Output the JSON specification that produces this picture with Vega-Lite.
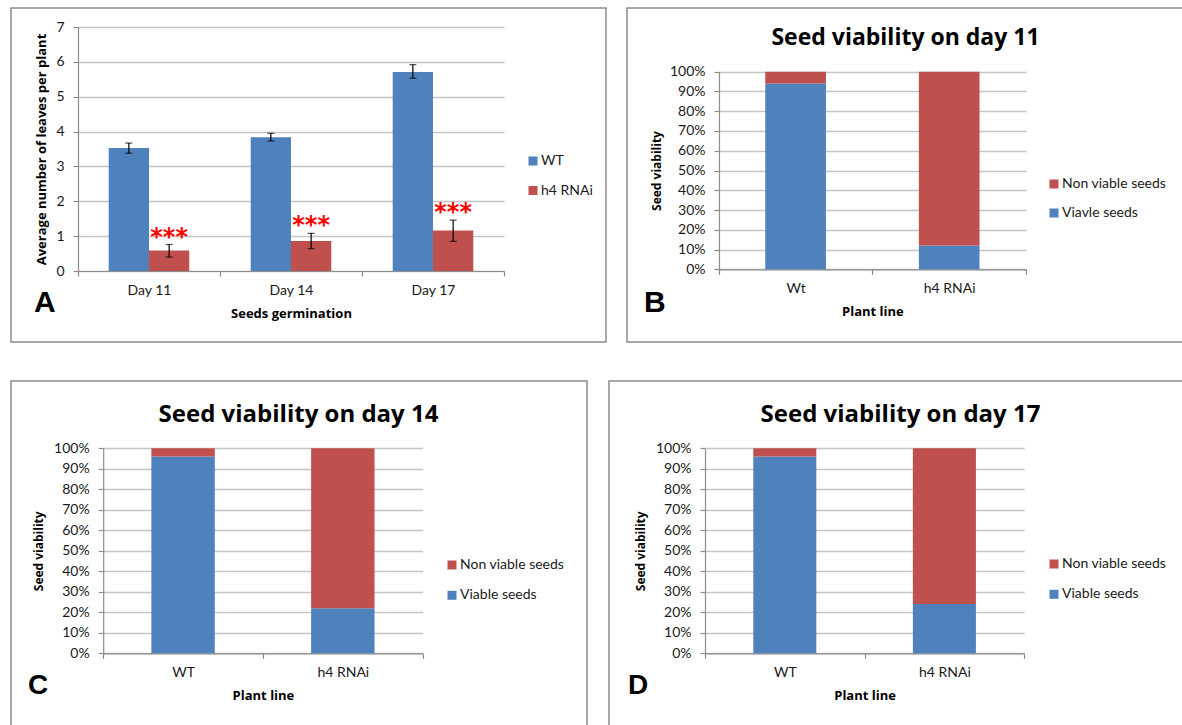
{
  "$schema": "https://vega.github.io/schema/vega-lite/v6.json",
  "padding": {"left": 10, "top": 7, "right": 0, "bottom": 0},
  "background": "white",
  "usermeta": {"embedOptions": {"actions": false}},
  "spacing": 37,
  "resolve": {"scale": {"color": "independent"}, "legend": {"color": "independent"}},
  "vconcat": [
    {
      "spacing": 21,
      "bounds": "flush",
      "resolve": {"scale": {"color": "independent"}, "legend": {"color": "independent"}},
      "hconcat": [
        {
          "width": 595,
          "height": 334,
          "title": {"text": "A", "offset": -54, "dx": 23},
          "data": {"values": [
            {"day": "Day 11", "line": "WT", "mean": 3.53, "lo": 3.38, "hi": 3.67},
            {"day": "Day 11", "line": "h4 RNAi", "mean": 0.59, "lo": 0.40, "hi": 0.76, "sig": "***"},
            {"day": "Day 14", "line": "WT", "mean": 3.84, "lo": 3.73, "hi": 3.95},
            {"day": "Day 14", "line": "h4 RNAi", "mean": 0.86, "lo": 0.64, "hi": 1.08, "sig": "***"},
            {"day": "Day 17", "line": "WT", "mean": 5.71, "lo": 5.53, "hi": 5.92},
            {"day": "Day 17", "line": "h4 RNAi", "mean": 1.16, "lo": 0.85, "hi": 1.46, "sig": "***"}
          ]},
          "encoding": {
            "x": {"field": "day", "type": "nominal",
                  "scale": {"domain": ["Day 11", "Day 14", "Day 17"], "range": [67, 493], "paddingInner": 0, "paddingOuter": 0},
                  "axis": {"title": "Seeds  germination", "orient": "bottom", "offset": -71}},
            "xOffset": {"field": "line", "type": "nominal",
                        "scale": {"domain": ["WT", "h4 RNAi"], "paddingInner": 0, "paddingOuter": 0.762}}
          },
          "layer": [
            {
              "mark": {"type": "bar"},
              "encoding": {
                "y": {"field": "mean", "type": "quantitative",
                      "scale": {"domain": [0, 7], "range": [263, 19], "nice": false},
                      "axis": {"title": "Average number of leaves per plant", "offset": -67, "values": [0, 1, 2, 3, 4, 5, 6, 7], "grid": true, "titlePadding": 7}},
                "color": {"field": "line", "type": "nominal",
                          "scale": {"domain": ["WT", "h4 RNAi"], "range": ["#4F81BD", "#C0504D"]},
                          "legend": {"title": null, "orient": "none", "legendX": 515, "legendY": 146, "rowPadding": 15.5}}
              }
            },
            {
              "mark": {"type": "rule", "color": "#000000", "strokeWidth": 1.2},
              "encoding": {
                "y": {"field": "lo", "type": "quantitative"},
                "y2": {"field": "hi"}
              }
            },
            {
              "mark": {"type": "tick", "color": "#000000", "thickness": 1.2, "size": 7},
              "encoding": {"y": {"field": "lo", "type": "quantitative"}}
            },
            {
              "mark": {"type": "tick", "color": "#000000", "thickness": 1.2, "size": 7},
              "encoding": {"y": {"field": "hi", "type": "quantitative"}}
            },
            {
              "transform": [{"filter": "datum.sig"}],
              "mark": {"type": "text", "color": "#FF0000", "font": "DejaVu Sans", "fontWeight": "bold", "fontSize": 24, "baseline": "middle", "dy": -7},
              "encoding": {
                "y": {"field": "hi", "type": "quantitative"},
                "text": {"field": "sig"}
              }
            }
          ]
        },
        {
          "width": 570,
          "height": 334,
          "title": {"text": "B", "offset": -54, "dx": 17},
          "data": {"values": [
            {"line": "Wt", "status": "Viavle seeds", "pct": 94},
            {"line": "Wt", "status": "Non viable seeds", "pct": 6},
            {"line": "h4 RNAi", "status": "Viavle seeds", "pct": 12},
            {"line": "h4 RNAi", "status": "Non viable seeds", "pct": 88}
          ]},
          "transform": [{"stack": "pct", "groupby": ["line"], "offset": "normalize", "sort": [{"field": "status", "order": "descending"}], "as": ["v0", "v1"]}],
          "encoding": {
            "y": {"field": "v0", "type": "quantitative",
                  "scale": {"domain": [0, 1], "range": [261.3, 63.7], "nice": false},
                  "axis": {"title": "Seed viability", "titleFontSize": 12, "offset": -92, "values": [0, 0.1, 0.2, 0.3, 0.4, 0.5, 0.6, 0.7, 0.8, 0.9, 1], "format": ".0%", "grid": true, "titlePadding": 6}},
            "y2": {"field": "v1"},
            "color": {"field": "status", "type": "nominal",
                      "scale": {"domain": ["Non viable seeds", "Viavle seeds"], "range": ["#C0504D", "#4F81BD"]},
                      "legend": {"title": null, "orient": "none", "legendX": 420, "legendY": 169, "rowPadding": 15}}
          },
          "layer": [
            {
              "transform": [{"filter": "datum.status == 'Viavle seeds'"}],
              "mark": {"type": "bar", "width": {"band": 0.395}},
              "encoding": {
                "x": {"field": "line", "type": "nominal",
                      "scale": {"domain": ["Wt", "h4 RNAi"], "range": [91.8, 399], "paddingInner": 0, "paddingOuter": 0},
                      "axis": {"title": "Plant line", "orient": "bottom", "offset": -72.7}}
              }
            },
            {
              "transform": [{"filter": "datum.status == 'Non viable seeds'"}],
              "mark": {"type": "bar", "width": {"band": 0.395}},
              "encoding": {
                "x": {"field": "line", "type": "nominal",
                      "scale": {"domain": ["Wt", "h4 RNAi"], "range": [91.8, 399], "paddingInner": 0, "paddingOuter": 0},
                      "axis": {"title": "Seed viability on day 11", "orient": "top", "offset": 0, "labels": false, "ticks": false, "domain": false, "grid": false,
                               "titleX": 278, "titleY": 36, "titleAlign": "center", "titleBaseline": "alphabetic", "titleAngle": 0, "titleFontSize": 23}}
              }
            }
          ],
          "resolve": {"axis": {"x": "independent"}}
        }
      ]
    },
    {
      "spacing": 22,
      "bounds": "flush",
      "resolve": {"scale": {"color": "independent"}, "legend": {"color": "independent"}},
      "hconcat": [
        {
          "width": 576,
          "height": 350,
          "title": {"text": "C", "offset": -59.5, "dx": 17, "fontSize": 28},
          "data": {"values": [
            {"line": "WT", "status": "Viable seeds", "pct": 96},
            {"line": "WT", "status": "Non viable seeds", "pct": 4},
            {"line": "h4 RNAi", "status": "Viable seeds", "pct": 22},
            {"line": "h4 RNAi", "status": "Non viable seeds", "pct": 78}
          ]},
          "transform": [{"stack": "pct", "groupby": ["line"], "offset": "normalize", "sort": [{"field": "status", "order": "descending"}], "as": ["v0", "v1"]}],
          "encoding": {
            "y": {"field": "v0", "type": "quantitative",
                  "scale": {"domain": [0, 1], "range": [272.3, 67.3], "nice": false},
                  "axis": {"title": "Seed viability", "titleFontSize": 12, "offset": -92.2, "values": [0, 0.1, 0.2, 0.3, 0.4, 0.5, 0.6, 0.7, 0.8, 0.9, 1], "format": ".0%", "grid": true, "titlePadding": 8}},
            "y2": {"field": "v1"},
            "color": {"field": "status", "type": "nominal",
                      "scale": {"domain": ["Non viable seeds", "Viable seeds"], "range": ["#C0504D", "#4F81BD"]},
                      "legend": {"title": null, "orient": "none", "legendX": 434, "legendY": 177, "rowPadding": 16.3}}
          },
          "layer": [
            {
              "transform": [{"filter": "datum.status == 'Viable seeds'"}],
              "mark": {"type": "bar", "width": {"band": 0.397}},
              "encoding": {
                "x": {"field": "line", "type": "nominal",
                      "scale": {"domain": ["WT", "h4 RNAi"], "range": [92.2, 411.7], "paddingInner": 0, "paddingOuter": 0},
                      "axis": {"title": "Plant line", "orient": "bottom", "offset": -77.7}}
              }
            },
            {
              "transform": [{"filter": "datum.status == 'Non viable seeds'"}],
              "mark": {"type": "bar", "width": {"band": 0.397}},
              "encoding": {
                "x": {"field": "line", "type": "nominal",
                      "scale": {"domain": ["WT", "h4 RNAi"], "range": [92.2, 411.7], "paddingInner": 0, "paddingOuter": 0},
                      "axis": {"title": "Seed viability on day 14", "orient": "top", "offset": 0, "labels": false, "ticks": false, "domain": false, "grid": false,
                               "titleX": 287, "titleY": 40, "titleAlign": "center", "titleBaseline": "alphabetic", "titleAngle": 0, "titleFontSize": 24}}
              }
            }
          ],
          "resolve": {"axis": {"x": "independent"}}
        },
        {
          "width": 580,
          "height": 350,
          "title": {"text": "D", "offset": -59, "dx": 19, "fontSize": 28},
          "data": {"values": [
            {"line": "WT", "status": "Viable seeds", "pct": 96},
            {"line": "WT", "status": "Non viable seeds", "pct": 4},
            {"line": "h4 RNAi", "status": "Viable seeds", "pct": 24},
            {"line": "h4 RNAi", "status": "Non viable seeds", "pct": 76}
          ]},
          "transform": [{"stack": "pct", "groupby": ["line"], "offset": "normalize", "sort": [{"field": "status", "order": "descending"}], "as": ["v0", "v1"]}],
          "encoding": {
            "y": {"field": "v0", "type": "quantitative",
                  "scale": {"domain": [0, 1], "range": [272.3, 67.3], "nice": false},
                  "axis": {"title": "Seed viability", "titleFontSize": 12, "offset": -96, "values": [0, 0.1, 0.2, 0.3, 0.4, 0.5, 0.6, 0.7, 0.8, 0.9, 1], "format": ".0%", "grid": true, "titlePadding": 8}},
            "y2": {"field": "v1"},
            "color": {"field": "status", "type": "nominal",
                      "scale": {"domain": ["Non viable seeds", "Viable seeds"], "range": ["#C0504D", "#4F81BD"]},
                      "legend": {"title": null, "orient": "none", "legendX": 438, "legendY": 176, "rowPadding": 16.3}}
          },
          "layer": [
            {
              "transform": [{"filter": "datum.status == 'Viable seeds'"}],
              "mark": {"type": "bar", "width": {"band": 0.395}},
              "encoding": {
                "x": {"field": "line", "type": "nominal",
                      "scale": {"domain": ["WT", "h4 RNAi"], "range": [96, 415.2], "paddingInner": 0, "paddingOuter": 0},
                      "axis": {"title": "Plant line", "orient": "bottom", "offset": -77.7}}
              }
            },
            {
              "transform": [{"filter": "datum.status == 'Non viable seeds'"}],
              "mark": {"type": "bar", "width": {"band": 0.395}},
              "encoding": {
                "x": {"field": "line", "type": "nominal",
                      "scale": {"domain": ["WT", "h4 RNAi"], "range": [96, 415.2], "paddingInner": 0, "paddingOuter": 0},
                      "axis": {"title": "Seed viability on day 17", "orient": "top", "offset": 0, "labels": false, "ticks": false, "domain": false, "grid": false,
                               "titleX": 291, "titleY": 40, "titleAlign": "center", "titleBaseline": "alphabetic", "titleAngle": 0, "titleFontSize": 24}}
              }
            }
          ],
          "resolve": {"axis": {"x": "independent"}}
        }
      ]
    }
  ],
  "config": {
    "view": {"stroke": "#8c8c8c", "strokeWidth": 1.5},
    "font": "Lato",
    "axis": {
      "labelFont": "Lato", "labelFontSize": 14, "labelColor": "#1a1a1a",
      "titleFont": "Open Sans", "titleFontSize": 13, "titleFontWeight": "bold", "titleColor": "#000000",
      "domainColor": "#8c8c8c", "domainWidth": 1.2, "tickColor": "#8c8c8c", "tickWidth": 1.2, "tickSize": 5,
      "gridColor": "#c4c4c4", "gridWidth": 1.3, "labelPadding": 7
    },
    "axisX": {"grid": false, "tickBand": "extent", "labelAngle": 0, "titlePadding": 10},
    "axisY": {"grid": true, "labelPadding": 9},
    "legend": {
      "labelFont": "Lato", "labelFontSize": 14, "labelColor": "#1a1a1a",
      "symbolType": "square", "symbolSize": 81, "symbolStrokeWidth": 0, "symbolOpacity": 1,
      "rowPadding": 14, "labelOffset": 1, "padding": 0
    },
    "title": {
      "font": "Liberation Sans", "fontSize": 30, "fontWeight": "bold", "color": "#000000",
      "orient": "bottom", "anchor": "start", "frame": "group"
    }
  }
}
